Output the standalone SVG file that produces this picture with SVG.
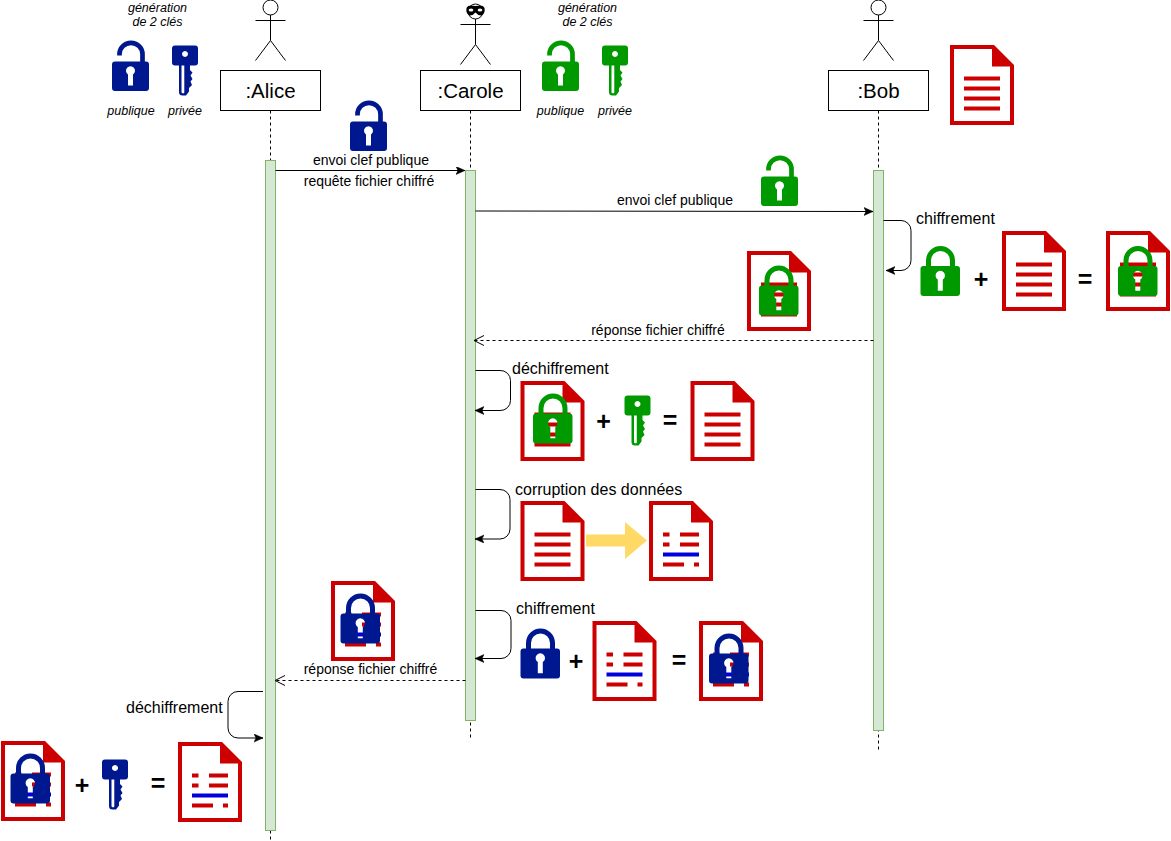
<svg xmlns="http://www.w3.org/2000/svg" xmlns:xlink="http://www.w3.org/1999/xlink" width="1171" height="841" viewBox="0 0 1171 841">
<style>
text{font-family:"Liberation Sans",Arial,sans-serif;fill:#000}
.lbl{font-size:14px;text-anchor:middle}
.it{font-size:12.500px;font-style:italic;text-anchor:middle}
.step{font-size:16px}
.op{font-size:25px;font-weight:bold;text-anchor:middle}
.name{font-size:20.500px;text-anchor:middle}
.box{fill:#fff;stroke:#000;stroke-width:1}
.life{fill:none;stroke:#000;stroke-width:1;stroke-dasharray:3 3}
.act{fill:#d5e8d4;stroke:#82b366;stroke-width:1}
.stick{fill:none;stroke:#000;stroke-width:1}
.msg{fill:none;stroke:#000;stroke-width:1}
.dash{stroke-dasharray:3 3}
.blue{color:#00188f}
.green{color:#009900}
.red{fill:#cc0000}
.bad{fill:#0000dd}
</style>
<defs>
<marker id="block" markerUnits="userSpaceOnUse" markerWidth="10" markerHeight="10" refX="9" refY="4" orient="auto"><path d="M0 0L9 4L0 8L2 4Z" fill="#000" stroke="#000" stroke-width=".5"/></marker>
<marker id="open" markerUnits="userSpaceOnUse" markerWidth="12" markerHeight="12" refX="10" refY="5" orient="auto"><path d="M0 0L10 5L0 10" fill="none" stroke="#000" stroke-width="1"/></marker>
<symbol id="docbase" overflow="visible"><path class="red" fill-rule="evenodd" d="M0 0H44L64 20V80H0ZM4 4V76H60V21.500H42V4Z"/></symbol>
<symbol id="doc" overflow="visible"><use href="#docbase"/><path class="red" d="M14 31.500h36v4H14zM14 41.500h36v4H14zM14 51.500h36v4H14zM14 61.500h36v4H14z"/></symbol>
<symbol id="docbad" overflow="visible"><use href="#docbase"/><path class="red" d="M14 31.500h6.500v4H14zM31 31.500h19v4H31zM14 41.500h6.500v4H14zM31 41.500h19v4H31zM14 61.500h21v4H14zM45 61.500h5v4H45z"/><rect class="bad" x="14" y="51.500" width="36" height="4"/></symbol>
<symbol id="closed" overflow="visible"><path fill="none" stroke="currentColor" stroke-width="5" d="M8 23V14.500a12 12 0 0 1 24 0V23"/><path fill="currentColor" fill-rule="evenodd" d="M3 20H36.500a3 3 0 0 1 3 3V47a3 3 0 0 1-3 3H3a3 3 0 0 1-3-3V23a3 3 0 0 1 3-3ZM17.300 33.500V44.700H22.300V33.500A4.700 4.700 0 1 0 17.300 33.500Z"/></symbol>
<symbol id="opened" overflow="visible"><path fill="none" stroke="currentColor" stroke-width="4.700" d="M7.500 15V13.800a11.500 11.500 0 0 1 23 0V22"/><path fill="currentColor" fill-rule="evenodd" d="M3 21H34a3 3 0 0 1 3 3V47.500a3 3 0 0 1-3 3H3a3 3 0 0 1-3-3V24a3 3 0 0 1 3-3ZM16 34V45H21V34A4.500 4.500 0 1 0 16 34Z"/></symbol>
<symbol id="key" overflow="visible"><path fill="currentColor" fill-rule="evenodd" d="M3 0H23a3 3 0 0 1 3 3V17a3 3 0 0 1-3 3H18V24.500L20.500 27L18.500 30L20.500 33.500L18.500 36L20 39.500L17 42.500V46L14 50H10.500Q7 50 7 46.500V20H3a3 3 0 0 1-3-3V3a3 3 0 0 1 3-3ZM13 5.500a3 3 0 1 0 .01 0ZM9.500 20V46.500Q9.500 47.800 10.800 47.800H11.800Q12.300 47.800 12.300 46.500V20Z"/></symbol>
</defs>

<g id="connectors">
<path class="life" d="M270.500 110.500V840"/>
<path class="life" d="M470.500 110.500V738"/>
<path class="life" d="M878.500 110.500V750"/>
</g>

<g id="alice">
<circle class="stick" cx="270.500" cy="7.500" r="7.500"/>
<path class="stick" d="M270.500 15V40.500M255.500 20.500H285.500M270.500 40.500L255.500 60.500M270.500 40.500L285.500 60.500"/>
<rect class="box" x="220.500" y="70.500" width="100" height="40"/>
<text class="name" x="270.500" y="98">:Alice</text>
<rect class="act" x="265.500" y="160.500" width="10" height="670"/>
</g>
<g id="carole">
<circle class="stick" cx="475.500" cy="11.500" r="7.500"/>
<path d="M466.500 8Q468 4.500 475.500 6Q483 4.500 484.500 8Q485.500 14 481 15.500Q478 15.500 475.500 12.500Q473 15.500 470 15.500Q465.500 14 466.500 8Z" fill="#000"/>
<ellipse cx="471" cy="10" rx="2.300" ry="1.600" fill="#fff"/><ellipse cx="480" cy="10" rx="2.300" ry="1.600" fill="#fff"/>
<path class="stick" d="M475.500 19V44.500M460.500 24.500H490.500M475.500 44.500L460.500 64.500M475.500 44.500L490.500 64.500"/>
<rect class="box" x="420.500" y="70.500" width="100" height="40"/>
<text class="name" x="470.500" y="98">:Carole</text>
<rect class="act" x="465.500" y="170.500" width="10" height="550"/>
</g>
<g id="bob">
<circle class="stick" cx="878.500" cy="7.500" r="7.500"/>
<path class="stick" d="M878.500 15V40.500M863.500 20.500H893.500M878.500 40.500L863.500 60.500M878.500 40.500L893.500 60.500"/>
<rect class="box" x="828.500" y="70.500" width="100" height="40"/>
<text class="name" x="878.500" y="98">:Bob</text>
<rect class="act" x="873.500" y="170.500" width="10" height="560"/>
</g>

<g id="messages">
<path class="msg" marker-end="url(#block)" d="M275.500 170.500H465"/>
<path class="msg" marker-end="url(#block)" d="M475.500 211L873 211.500"/>
<path class="msg dash" marker-end="url(#open)" d="M873.500 340.500H474"/>
<path class="msg dash" marker-end="url(#open)" d="M465.500 680.500H275"/>
<path class="msg" marker-end="url(#block)" d="M883.500 220.500H901a10 10 0 0 1 10 10V260.500a10 10 0 0 1-10 10H886"/>
<path class="msg" marker-end="url(#block)" d="M475.500 370.500H500a10 10 0 0 1 10.500 10V400.500a10 10 0 0 1-10.500 10H475"/>
<path class="msg" marker-end="url(#block)" d="M475.500 489.500H500a10 10 0 0 1 10 10V529a10 10 0 0 1-10 10H475"/>
<path class="msg" marker-end="url(#block)" d="M475.500 610.500H501a10 10 0 0 1 10 10V648.500a10 10 0 0 1-10 10H475"/>
<path class="msg" marker-end="url(#block)" d="M263 691.500H238a10 10 0 0 0-10 10V728a10 10 0 0 0 10 10H263"/>
<text class="lbl" x="371" y="165">envoi clef publique</text>
<text class="lbl" x="369" y="186">requête fichier chiffré</text>
<text class="lbl" x="675" y="205">envoi clef publique</text>
<text class="lbl" x="658" y="335">réponse fichier chiffré</text>
<text class="lbl" x="370.500" y="674">réponse fichier chiffré</text>
<text class="step" x="916" y="224">chiffrement</text>
<text class="step" x="512" y="374">déchiffrement</text>
<text class="step" x="515" y="495">corruption des données</text>
<text class="step" x="516" y="614">chiffrement</text>
<text class="step" x="126" y="713">déchiffrement</text>
</g>

<g id="alice-keys" class="blue">
<text class="it" x="157.500" y="12">génération</text><text class="it" x="157.500" y="26">de 2 clés</text>
<use href="#opened" x="112" y="40.500"/>
<use href="#key" x="172" y="45.500"/>
<text class="it" x="131" y="115">publique</text><text class="it" x="185" y="115">privée</text>
</g>
<g id="carole-keys" class="green">
<text class="it" x="587.500" y="12">génération</text><text class="it" x="587.500" y="26">de 2 clés</text>
<use href="#opened" x="542" y="40.500"/>
<use href="#key" x="602" y="45.500"/>
<text class="it" x="560.500" y="115">publique</text><text class="it" x="615" y="115">privée</text>
</g>
<g id="bob-doc"><use href="#doc" x="950" y="45"/></g>
<g id="sent-blue-lock" class="blue"><use href="#opened" x="350" y="100.500"/></g>
<g id="sent-green-lock" class="green"><use href="#opened" x="761" y="155.500"/></g>

<g id="bob-encrypt">
<use href="#closed" class="green" x="920.500" y="246"/>
<text class="op" x="981" y="287.500">+</text>
<use href="#doc" x="1002" y="231"/>
<text class="op" x="1085" y="287.500">=</text>
<use href="#doc" x="1106" y="231"/>
<use href="#closed" class="green" x="1118" y="246"/>
</g>
<g id="reply-green"><use href="#doc" x="747" y="251"/><use href="#closed" class="green" x="759" y="265.500"/></g>
<g id="carole-decrypt">
<use href="#doc" x="520.500" y="381"/>
<use href="#closed" class="green" x="533" y="393.500"/>
<text class="op" x="603.500" y="429.500">+</text>
<use href="#key" class="green" x="624.500" y="395.500"/>
<text class="op" x="670" y="428.500">=</text>
<use href="#doc" x="690.500" y="381"/>
</g>
<g id="carole-corrupt">
<use href="#doc" x="520.500" y="501"/>
<path fill="#ffd966" d="M586 534.500H625V522L647 540.500L625 559V546.500H586Z"/>
<use href="#docbad" x="649" y="501"/>
</g>
<g id="carole-encrypt">
<use href="#closed" class="blue" x="520.500" y="628.500"/>
<text class="op" x="576" y="669.500">+</text>
<use href="#docbad" x="592.500" y="621"/>
<text class="op" x="679" y="668.500">=</text>
<use href="#docbad" x="699" y="621"/>
<use href="#closed" class="blue" x="709" y="633.500"/>
</g>
<g id="reply-blue"><use href="#docbad" x="331" y="581"/><use href="#closed" class="blue" x="340.500" y="593.500"/></g>
<g id="alice-decrypt">
<use href="#docbad" x="1" y="741"/>
<use href="#closed" class="blue" x="10.500" y="753.500"/>
<text class="op" x="82" y="793.500">+</text>
<use href="#key" class="blue" x="102" y="759.500"/>
<text class="op" x="158" y="791.500">=</text>
<use href="#docbad" x="178" y="742"/>
</g>
</svg>
